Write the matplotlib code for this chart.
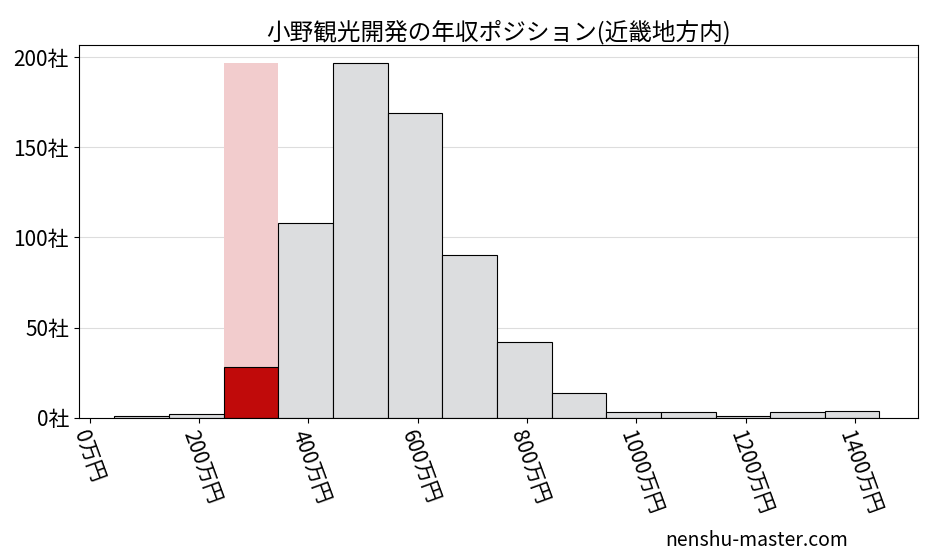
import numpy as np
import matplotlib
matplotlib.use("Agg")
import matplotlib.pyplot as plt

plt.rcParams['font.family'] = ['Noto Sans CJK JP', 'DejaVu Sans']

# 年収の階級（左端, 万円）と社数
bin_left = [45, 145, 245, 345, 445, 545, 645, 745, 845, 945, 1045, 1145, 1245, 1345]
counts = [1, 2, 28, 108, 197, 169, 90, 42, 14, 3, 3, 1, 3, 4]
highlight_idx = 2
bin_width = 100

xticks = [0, 200, 400, 600, 800, 1000, 1200, 1400]
yticks = [0, 50, 100, 150, 200]

fig, ax = plt.subplots(figsize=(9.27, 5.57), dpi=100)
fig.subplots_adjust(left=0.085, right=0.99, top=0.92, bottom=0.25)

colors = ['#dcdddf'] * len(counts)
colors[highlight_idx] = '#c00a0a'

# 自社位置の帯
ax.bar(bin_left[highlight_idx], max(counts), width=bin_width, align='edge',
       color='#f2cccd', zorder=1)
ax.bar(bin_left, counts, width=bin_width, align='edge', color=colors,
       edgecolor='black', linewidth=0.8, zorder=2)

ax.set_xlim(-20, 1515)
ax.set_ylim(0, 207)
ax.set_xticks(xticks)
ax.set_xticklabels([f"{v}万円" for v in xticks], rotation=-70, ha='left',
                   rotation_mode='anchor', fontsize=15)
ax.set_yticks(yticks)
ax.set_yticklabels([f"{v}社" for v in yticks], fontsize=15)
ax.grid(axis='y', color='#dddddd', linewidth=0.8, zorder=0)
ax.set_axisbelow(True)
ax.set_title("小野観光開発の年収ポジション(近畿地方内)", fontsize=17, pad=4)

fig.text(0.915, 0.02, "nenshu-master.com", ha='right', fontsize=14)

fig.savefig("out.png")
